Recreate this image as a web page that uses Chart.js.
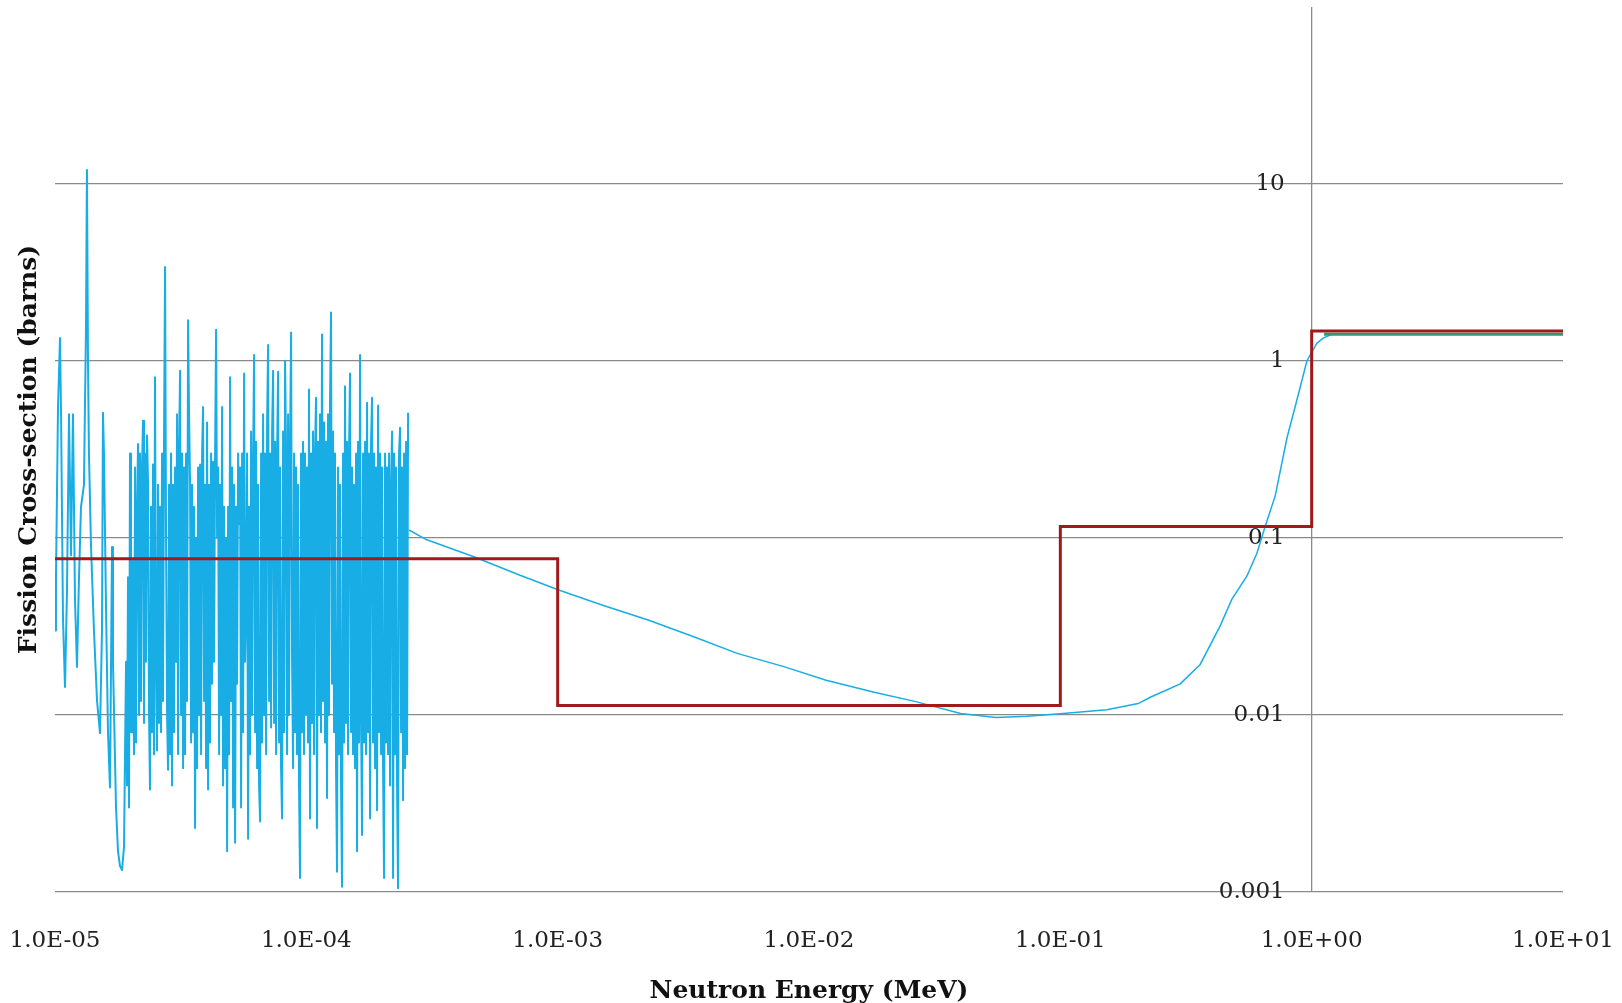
<!DOCTYPE html>
<html>
<head>
  <meta charset="utf-8" />
  <script src="https://cdn.jsdelivr.net/npm/chart.js@4.4.1/dist/chart.umd.min.js"></script>
  <style>
    body { margin: 0; background: #fff; }
    #wrap { width: 1622px; height: 1003px; }
  </style>
</head>
<body>
<div id="wrap"><canvas id="xsChart" width="1622" height="1003"></canvas></div>

<script>
/* ---------- Data ---------- */
// resolved resonance region: [energy (eV), cross-section (barns)]
const resonancePts = [
  [10.00,0.03],[10.09,0.06],[10.28,0.55],[10.47,1.35],[10.57,0.5],[10.76,0.035],[10.96,0.0144],[11.16,0.05],[11.37,0.5],[11.58,0.08],
  [11.79,0.5],[12.01,0.045],[12.23,0.0187],[12.46,0.06],[12.69,0.15],[13.04,0.2],[13.28,1.5],[13.40,12],[13.53,1.0],[13.65,0.3],
  [13.91,0.09],[14.29,0.03],[14.70,0.012],[15.10,0.0079],[15.38,0.03],[15.52,0.51],[15.66,0.3],[15.96,0.04],[16.25,0.008],[16.55,0.0039],
  [16.86,0.089],[17.01,0.02],[17.49,0.003],[17.81,0.0017],[18.14,0.0014],[18.48,0.00133],[18.82,0.0018],
  [19.17,0.02],[19.34,0.004],[19.52,0.06],[19.70,0.003],[19.88,0.3],[20.06,0.008],[20.25,0.008],[20.43,0.075],[20.62,0.006],[20.82,0.25],
  [21.01,0.007],[21.21,0.15],[21.40,0.34],[21.60,0.01],[21.79,0.3],[21.99,0.012],[22.19,0.25],[22.40,0.46],[22.60,0.009],[22.82,0.3],
  [23.03,0.02],[23.24,0.38],[23.46,0.2],[23.67,0.01],[23.88,0.0038],[24.10,0.15],[24.32,0.008],[24.55,0.26],[24.77,0.006],[25.00,0.81],
  [25.23,0.02],[25.46,0.0063],[25.70,0.2],[25.93,0.009],[26.18,0.15],[26.42,0.008],[26.66,0.3],[26.91,0.012],[27.16,0.4],[27.41,3.4],
  [27.66,0.1],[27.92,0.01],[28.17,0.0049],[28.43,0.2],[28.69,0.006],[28.95,0.3],[29.22,0.004],[29.49,0.2],[29.76,0.008],[30.04,0.25],
  [30.32,0.02],[30.60,0.5],[30.88,0.006],[31.16,0.3],[31.45,0.88],[31.74,0.01],[32.03,0.3],[32.33,0.005],[32.62,0.25],[32.92,0.006],
  [33.22,0.3],[33.53,0.012],[33.84,1.7],[34.15,0.5],[34.47,0.2],[34.79,0.007],[35.11,0.2],[35.43,0.008],[35.76,0.15],[36.08,0.0023],
  [36.41,0.1],[36.75,0.005],[37.09,0.25],[37.43,0.01],[37.78,0.26],[38.13,0.006],[38.48,0.3],[38.83,0.55],[39.19,0.012],[39.55,0.2],
  [39.91,0.005],[40.28,0.45],[40.65,0.0038],[41.02,0.2],[41.40,0.007],[41.78,0.3],[42.17,0.015],[42.55,0.27],[42.94,0.02],[43.35,0.3],
  [43.75,1.5],[44.15,0.1],[44.56,0.25],[44.97,0.006],[45.38,0.2],[45.80,0.01],[46.22,0.55],[46.64,0.004],[47.07,0.15],[47.51,0.005],
  [47.95,0.1],[48.39,0.0017],[48.83,0.15],[49.28,0.006],[49.73,0.81],[50.19,0.012],[50.65,0.25],[51.12,0.003],[51.59,0.2],[52.07,0.0019],
  [52.55,0.15],[53.03,0.015],[53.52,0.3],[54.01,0.12],[54.51,0.25],[55.01,0.003],[55.52,0.3],[56.03,0.008],[56.54,0.85],[57.06,0.02],
  [57.58,0.04],[58.11,0.3],[58.65,0.002],[59.19,0.15],[59.73,0.006],[60.28,0.4],[60.83,0.01],[61.39,0.25],[61.96,1.08],[62.53,0.008],
  [63.11,0.35],[63.69,0.005],[64.27,0.2],[64.86,0.004],[65.47,0.0025],[66.07,0.3],[66.68,0.007],[67.29,0.5],[67.91,0.01],[68.54,0.3],
  [69.17,0.006],[69.81,0.45],[70.45,1.23],[71.10,0.012],[71.75,0.3],[72.41,0.0085],[73.08,0.4],[73.75,0.88],[74.43,0.009],[75.11,0.35],
  [75.80,0.006],[76.50,0.3],[77.20,0.87],[77.91,0.007],[78.62,0.25],[79.34,0.005],[80.07,0.0026],[80.81,0.4],[81.55,0.008],[82.30,1.0],
  [83.06,0.3],[83.82,0.006],[84.59,0.5],[85.37,0.01],[86.17,0.35],[86.96,1.45],[87.76,0.02],[88.57,0.005],[89.38,0.3],[90.16,0.008],
  [90.99,0.25],[91.83,0.006],[92.67,0.2],[93.52,0.004],[94.39,0.0012],[95.26,0.3],[96.13,0.008],[97.02,0.35],[97.91,0.006],[98.81,0.3],
  [99.72,0.01],[100.64,0.25],[101.56,0.007],[102.49,0.69],[103.44,0.0026],[104.39,0.3],[105.35,0.009],[106.32,0.4],[107.30,0.006],[108.29,0.3],
  [109.29,0.62],[110.29,0.0023],[111.31,0.35],[112.33,0.01],[113.37,0.5],[114.41,0.008],[115.46,1.41],[116.53,0.012],[117.60,0.45],[118.68,0.007],
  [119.77,0.35],[120.87,0.0034],[121.99,0.5],[123.11,0.01],[124.25,0.6],[125.39,1.88],[126.54,0.015],[127.71,0.4],[128.88,0.008],[130.07,0.3],
  [131.27,0.005],[132.47,0.0013],[133.69,0.25],[134.92,0.006],[136.18,0.2],[137.43,0.004],[138.70,0.00107],[139.97,0.3],[141.26,0.007],[142.56,0.72],
  [143.87,0.009],[145.19,0.35],[146.53,0.006],[147.88,0.3],[149.25,0.85],[150.62,0.008],[152.01,0.25],[153.41,0.006],[154.82,0.2],[156.25,0.005],
  [157.69,0.3],[159.14,0.0017],[160.60,0.35],[162.08,0.007],[163.57,1.08],[165.07,0.01],[166.59,0.0021],[168.13,0.3],[169.67,0.007],[171.25,0.35],
  [172.83,0.006],[174.41,0.58],[176.02,0.008],[177.64,0.3],[179.28,0.0026],[180.93,0.35],[182.59,0.62],[184.27,0.007],[185.97,0.3],[187.68,0.005],
  [189.41,0.25],[191.15,0.0029],[192.91,0.56],[194.68,0.008],[196.49,0.3],[198.30,0.006],[200.12,0.25],[201.96,0.005],[203.82,0.0012],[205.70,0.3],
  [207.59,0.007],[209.50,0.25],[211.43,0.006],[213.37,0.3],[215.35,0.004],[217.33,0.2],[219.33,0.4],[221.35,0.0012],[223.38,0.3],[225.40,0.006],
  [227.47,0.25],[229.57,0.004],[231.68,0.00105],[233.81,0.3],[236.00,0.42],[238.17,0.008],[240.36,0.25],[242.57,0.0033],[244.80,0.3],[247.10,0.005],
  [249.37,0.35],[251.67,0.006],[253.98,0.51]
];

// smooth part of the pointwise curve (MeV, barns)
const smoothE  = [2.563e-4, 3.0e-4, 4.64e-4, 7.0e-4, 1.01e-3, 1.5e-3, 2.29e-3, 3.5e-3, 5.18e-3, 8.0e-3,
                  1.17e-2, 1.8e-2, 2.66e-2, 4.01e-2, 5.55e-2, 7.38e-2, 0.1026, 0.153, 0.204, 0.228,
                  0.300, 0.360, 0.432, 0.481, 0.552, 0.605, 0.653, 0.716, 0.797, 0.873,
                  0.957, 1.049, 1.114, 1.2];
const smoothXS = [0.111, 0.098, 0.0784, 0.062, 0.0508, 0.0418, 0.0344, 0.0276, 0.0223, 0.0187,
                  0.0157, 0.0135, 0.0119, 0.0102, 0.00968, 0.00983, 0.0102, 0.0107, 0.0116, 0.0126,
                  0.0150, 0.0193, 0.0318, 0.045, 0.0608, 0.0818, 0.116, 0.173, 0.366, 0.60,
                  1.0, 1.26, 1.35, 1.41];

// group-averaged (step) cross-section
const groupE  = [1e-5, 1e-3, 1e-3, 0.1, 0.1, 1, 1, 10];
const groupXS = [0.0764, 0.0764, 0.0113, 0.0113, 0.116, 0.116, 1.479, 1.479];

// fast region line
const fastE  = [1.12, 10];
const fastXS = [1.416, 1.416];

const xTicks = [1e-5, 1e-4, 1e-3, 1e-2, 1e-1, 1, 10];
const xTickLabels = ['1.0E-05', '1.0E-04', '1.0E-03', '1.0E-02', '1.0E-01', '1.0E+00', '1.0E+01'];
const yTicks = [0.001, 0.01, 0.1, 1, 10, 100];
const yTickLabels = ['0.001', '0.01', '0.1', '1', '10', null];

/* ---------- Style ---------- */
const GRID = '#8a8a8a';
const TEXT = '#222';
const CYAN = '#19ade6';
const Y_LABEL_AT = 0.781;   // labels sit just left of the x = 1 MeV line

Chart.defaults.font.family = "'DejaVu Serif', serif";

const toXY = (xs, ys) => xs.map((x, i) => ({ x: x, y: ys[i] }));

new Chart(document.getElementById('xsChart'), {
  type: 'line',
  data: {
    datasets: [
      { label: 'Group', data: toXY(groupE, groupXS), borderColor: '#a01a1c', borderWidth: 3,
        borderJoinStyle: 'miter', pointRadius: 0, tension: 0 },
      { label: 'Fast', data: toXY(fastE, fastXS), borderColor: '#2e9a72', borderWidth: 3,
        pointRadius: 0, tension: 0 },
      { label: 'Smooth', data: toXY(smoothE, smoothXS), borderColor: CYAN, borderWidth: 1.5,
        pointRadius: 0, tension: 0 },
      { label: 'Resonances', data: resonancePts.map(p => ({ x: p[0] / 1e6, y: p[1] })),
        borderColor: CYAN, borderWidth: 2, borderJoinStyle: 'round', pointRadius: 0, tension: 0 }
    ]
  },
  options: {
    responsive: false,
    devicePixelRatio: 1,
    animation: false,
    layout: { padding: { left: 0, right: 59, top: 7, bottom: 0 } },
    plugins: { legend: { display: false }, tooltip: { enabled: false } },
    scales: {
      x: {
        type: 'logarithmic', position: 'bottom', min: 1e-5, max: 10,
        afterBuildTicks: s => { s.ticks = xTicks.map(v => ({ value: v })); },
        ticks: { autoSkip: false, maxRotation: 0, padding: 0, color: TEXT,
                 font: { size: 23, lineHeight: 98 / 23 },
                 callback: (v, i) => xTickLabels[i] },
        grid: { drawTicks: false, lineWidth: 1.3,
                color: c => (c.tick && c.tick.value === 1) ? GRID : 'rgba(0,0,0,0)' },
        border: { display: false },
        title: { display: true, text: 'Neutron Energy (MeV)', color: '#111',
                 font: { size: 25, weight: 'bold', lineHeight: 0.08 }, padding: { top: 0, bottom: 11 } }
      },
      y: {
        type: 'logarithmic', axis: 'y', position: { x: Y_LABEL_AT }, min: 0.001, max: 100,
        afterBuildTicks: s => { s.ticks = yTicks.map(v => ({ value: v })); },
        ticks: { color: TEXT, font: { size: 23, lineHeight: 0.3 }, callback: (v, i) => yTickLabels[i] },
        grid: { drawTicks: false, lineWidth: 1.3,
                color: c => (c.tick && c.tick.value === 100) ? 'rgba(0,0,0,0)' : GRID },
        border: { display: false }
      },
      yTitle: {
        type: 'linear', axis: 'y', position: 'left',
        ticks: { display: false },
        grid: { display: false, drawTicks: false },
        border: { display: false },
        title: { display: true, text: 'Fission Cross-section (barns)', color: '#111',
                 font: { size: 25, weight: 'bold' }, padding: { top: 14, bottom: 11 } }
      }
    }
  }
});
</script>
</body>
</html>
